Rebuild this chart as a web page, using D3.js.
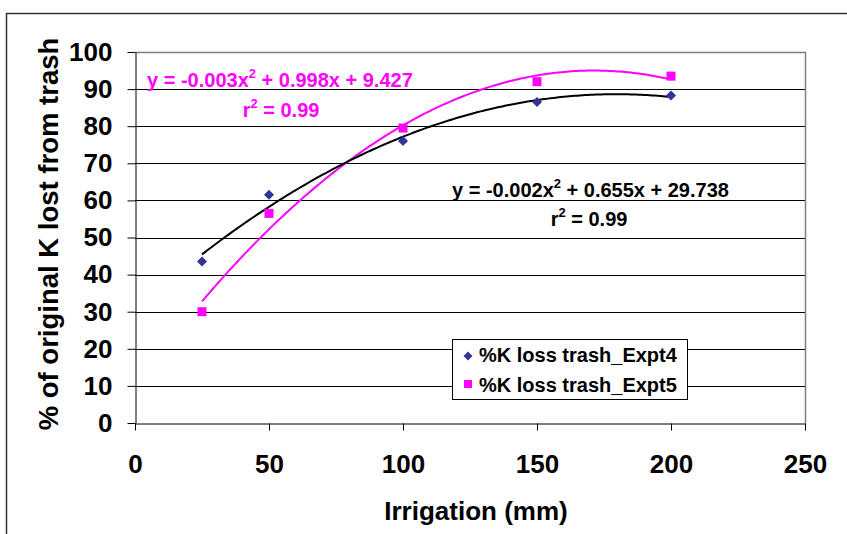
<!DOCTYPE html>
<html>
<head>
<meta charset="utf-8">
<script src="https://cdn.jsdelivr.net/npm/d3@7"></script>
<style>
  html, body { margin: 0; padding: 0; background: #fff; }
  svg { display: block; font-family: "Liberation Sans", Arial, Helvetica, sans-serif; font-weight: bold; }
</style>
</head>
<body>
<svg id="chart" width="847" height="534"></svg>
<script>
// ---- data ----
const irrigation = [25, 50, 100, 150, 200];
const expt4 = [43.5, 61.5, 76, 86.5, 88.3];
const expt5 = [30, 56.5, 79.5, 92, 93.5];
const seriesNames = ["%K loss trash_Expt4", "%K loss trash_Expt5"];
const xTicks = [0, 50, 100, 150, 200, 250];
const yTicks = [0, 10, 20, 30, 40, 50, 60, 70, 80, 90, 100];
const eqExpt4 = ["y = -0.002x", " + 0.655x + 29.738"];
const eqExpt5 = ["y = -0.003x", " + 0.998x + 9.427"];
const r2Label = "0.99";
const xTitle = "Irrigation (mm)";
const yTitle = "% of original K lost from trash";

const svg = d3.select("#chart");

// outer chart border
svg.append("rect").attr("x", 6.5).attr("y", 13.5).attr("width", 900).attr("height", 600)
  .attr("fill", "none").attr("stroke", "#333").attr("stroke-width", 1.5);

const x = d3.scaleLinear().domain([0, 250]).range([135, 805]);
const y = d3.scaleLinear().domain([0, 100]).range([423, 52]);
const cr = v => Math.round(v) + 0.5;

// gridlines
svg.append("g").selectAll("line").data(yTicks.filter(t => t > 0 && t < 100)).join("line")
  .attr("x1", x(0)).attr("x2", x(250))
  .attr("y1", d => cr(y(d))).attr("y2", d => cr(y(d)))
  .attr("stroke", "#000").attr("stroke-width", 1);

// plot area border top/right (gray)
svg.append("path")
  .attr("d", `M${cr(x(0))},${cr(y(100))}H${cr(x(250))}V${cr(y(0))}`)
  .attr("fill", "none").attr("stroke", "#808080").attr("stroke-width", 1.5);

// axes
const yAxis = d3.axisLeft(y).tickValues(yTicks).tickSize(8).tickSizeOuter(0).tickPadding(15);
const gy = svg.append("g").attr("transform", `translate(${cr(x(0))},0)`).call(yAxis);
const xAxis = d3.axisBottom(x).tickValues(xTicks).tickSize(7).tickSizeOuter(0).tickPadding(24);
const gx = svg.append("g").attr("transform", `translate(0,${cr(y(0))})`).call(xAxis);
[gx, gy].forEach(g => {
  g.selectAll("path, line").attr("stroke", "#000").attr("stroke-width", 1);
  g.selectAll("text").attr("fill", "#000").attr("font-size", 26)
    .attr("font-family", '"Liberation Sans", Arial, sans-serif').attr("font-weight", "bold");
});

// quadratic least-squares fit (Excel polynomial trendline)
function quadFit(xs, ys) {
  const S = k => d3.sum(xs, v => Math.pow(v, k));
  const T = k => d3.sum(xs, (v, i) => Math.pow(v, k) * ys[i]);
  const A = [[S(4), S(3), S(2), T(2)], [S(3), S(2), S(1), T(1)], [S(2), S(1), xs.length, T(0)]];
  for (let i = 0; i < 3; i++) {
    for (let j = i + 1; j < 3; j++) {
      const f = A[j][i] / A[i][i];
      for (let k = i; k < 4; k++) A[j][k] -= f * A[i][k];
    }
  }
  const c = [0, 0, 0];
  for (let i = 2; i >= 0; i--) {
    let s = A[i][3];
    for (let k = i + 1; k < 3; k++) s -= A[i][k] * c[k];
    c[i] = s / A[i][i];
  }
  return v => c[0] * v * v + c[1] * v + c[2];
}

const line = d3.line().x(d => x(d[0])).y(d => y(d[1])).curve(d3.curveLinear);
const xsFine = d3.range(irrigation[0], irrigation[irrigation.length - 1] + 0.5, 1);
const f4 = quadFit(irrigation, expt4);
const f5 = quadFit(irrigation, expt5);
svg.append("path").attr("d", line(xsFine.map(v => [v, f5(v)])))
  .attr("fill", "none").attr("stroke", "#FF00FF").attr("stroke-width", 2);
svg.append("path").attr("d", line(xsFine.map(v => [v, f4(v)])))
  .attr("fill", "none").attr("stroke", "#000").attr("stroke-width", 2);

// markers
const diamondPath = r => `M0,${-r}L${r},0L0,${r}L${-r},0Z`;
svg.append("g").selectAll("path").data(irrigation.map((v, i) => [v, expt4[i]])).join("path")
  .attr("d", diamondPath(5)).attr("transform", d => `translate(${x(d[0])},${y(d[1])})`)
  .attr("fill", "#333399");
svg.append("g").selectAll("rect").data(irrigation.map((v, i) => [v, expt5[i]])).join("rect")
  .attr("x", d => x(d[0]) - 4.5).attr("y", d => y(d[1]) - 4.5)
  .attr("width", 9).attr("height", 9).attr("fill", "#FF00FF");

// equation labels
function eq(parts, x0, yb, color) {
  const t = svg.append("text").attr("x", x0).attr("y", yb).attr("fill", color)
    .attr("font-size", 20);
  t.append("tspan").text(parts[0]);
  t.append("tspan").attr("font-size", 13).attr("dy", -9).text("2");
  t.append("tspan").attr("dy", 9).text(parts[1]);
  return t;
}
function r2(xc, yb, color) {
  const t = svg.append("text").attr("x", xc).attr("y", yb).attr("fill", color)
    .attr("font-size", 20).attr("text-anchor", "middle");
  t.append("tspan").text("r");
  t.append("tspan").attr("font-size", 13).attr("dy", -9).text("2");
  t.append("tspan").attr("dy", 9).text(" = " + r2Label);
}
eq(eqExpt5, 147, 87, "#FF00FF");
r2(281, 117, "#FF00FF");
eq(eqExpt4, 452, 197, "#000");
r2(589, 226, "#000");

// legend
const lg = svg.append("g");
lg.append("rect").attr("x", 452.5).attr("y", 339.5).attr("width", 235).attr("height", 60)
  .attr("fill", "#fff").attr("stroke", "#000").attr("stroke-width", 1);
lg.append("path").attr("d", diamondPath(4.5))
  .attr("transform", "translate(468,356)").attr("fill", "#333399");
lg.append("rect").attr("x", 464).attr("y", 380).attr("width", 8).attr("height", 8).attr("fill", "#FF00FF");
lg.selectAll("text").data(seriesNames).join("text")
  .attr("x", 479).attr("y", (d, i) => 362 + i * 30)
  .attr("font-size", 20).attr("fill", "#000").text(d => d);

// axis titles
svg.append("text").attr("x", 476).attr("y", 520).attr("text-anchor", "middle")
  .attr("font-size", 26).attr("fill", "#000").text(xTitle);
svg.append("text").attr("transform", "translate(58,234) rotate(-90)").attr("text-anchor", "middle")
  .attr("font-size", 27.5).attr("fill", "#000").text(yTitle);
</script>
</body>
</html>
